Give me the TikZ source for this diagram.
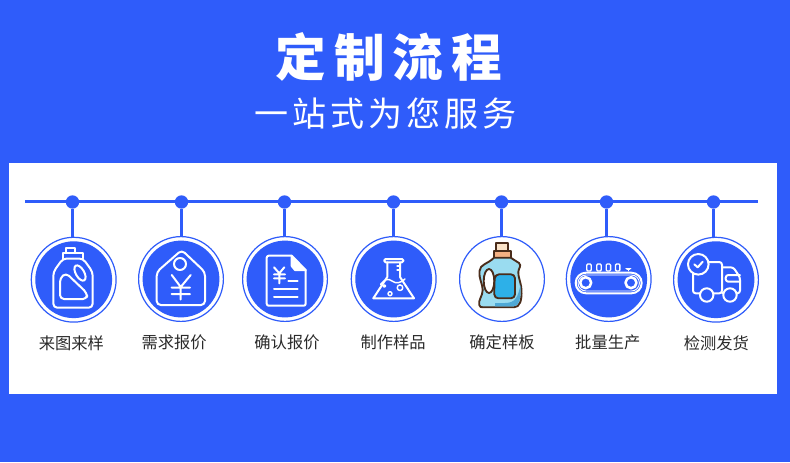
\documentclass[tikz,border=0pt]{standalone}
\usepackage{fontspec}
\usetikzlibrary{positioning}
\newfontfamily\cjk{Noto Sans CJK SC}
\newfontfamily\cjktitle[LetterSpace=15.5]{Noto Sans CJK SC}
\newfontfamily\cjksub[LetterSpace=12]{Noto Sans CJK SC}
\definecolor{flowblue}{HTML}{2F5CFA}
\definecolor{flowtext}{HTML}{2A2A2A}
\definecolor{bottleline}{HTML}{4A2C1A}
\definecolor{bottlebody}{HTML}{9ADCF0}
\definecolor{bottlelabel}{HTML}{2DB0E8}
\definecolor{bottleshade}{HTML}{4FA9D6}
\definecolor{bottlecollar}{HTML}{F5B183}
\definecolor{bottlecap}{HTML}{FBE3C8}

\begin{document}
\begin{tikzpicture}[x=.75pt,y=-.75pt,font=\cjk,
 dot/.style={circle,fill=flowblue,minimum size=10pt,inner sep=0pt},
 ring/.style={circle,draw=flowblue,line width=.9pt,minimum size=63.6pt,inner sep=0pt},
 disc/.style={circle,fill=flowblue,minimum size=57.6pt,inner sep=0pt},
 steplabel/.style={text=flowtext,font=\cjk\fontsize{12.2}{14}\selectfont,inner sep=0pt},
 link/.style={draw=flowblue,line width=1.7pt},
 ico/.style={draw=white,line width=1.5pt,line join=round,line cap=round},
 brown/.style={draw=bottleline,line width=1.4pt,line join=round}]
\fill[flowblue](0,0)rectangle(790,462);
\useasboundingbox(0,0)rectangle(790,462);
\fill[white](9,163)rectangle(777,394);
\node[text=white,font=\cjktitle\bfseries\fontsize{38}{44}\selectfont](title)at(389,57){定制流程};
\node[text=white,font=\cjksub\fontsize{25.5}{30}\selectfont,below=5pt of title,xshift=-2.5pt](subtitle){一站式为您服务};
\coordinate(lineL)at(25,201.5);
\coordinate(lineR)at(758,201.5);
\draw[flowblue,line width=2.6pt](lineL)--(lineR);
\node[dot](dot1)at(72.5,202){};
\node[dot](dot2)at(181.5,202){};
\node[dot](dot3)at(284.5,202){};
\node[dot](dot4)at(393.5,202){};
\node[dot](dot5)at(501.5,202){};
\node[dot](dot6)at(606.5,202){};
\node[dot](dot7)at(713.5,202){};
\node[ring](ring1)at(73.7,279.7){};
\node[ring](ring2)at(181,279){};
\node[ring](ring3)at(285,279){};
\node[ring](ring4)at(393.7,279){};
\node[ring](ring5)at(502,279){};
\node[ring](ring6)at(608.7,279){};
\node[ring](ring7)at(716,279.7){};
\node[disc]at(ring1){};
\node[disc]at(ring2){};
\node[disc]at(ring3){};
\node[disc]at(ring4){};
\node[disc]at(ring6){};
\node[disc]at(ring7){};
\draw[link](dot1)--(dot1|-ring1.north);
\draw[link](dot2)--(dot2|-ring2.north);
\draw[link](dot3)--(dot3|-ring3.north);
\draw[link](dot4)--(dot4|-ring4.north);
\draw[link](dot5)--(dot5|-ring5.north);
\draw[link](dot6)--(dot6|-ring6.north);
\draw[link](dot7)--(dot7|-ring7.north);
\node[steplabel,below=9.7pt of ring1,xshift=-1.7pt](text1){来图来样};
\node[steplabel,below=9.7pt of ring2,xshift=-5.2pt](text2){需求报价};
\node[steplabel,below=9.7pt of ring3,xshift=1.5pt](text3){确认报价};
\node[steplabel,below=9.7pt of ring4,xshift=-.5pt](text4){制作样品};
\node[steplabel,below=9.7pt of ring5](text5){确定样板};
\node[steplabel,below=9.7pt of ring6,xshift=-.7pt](text6){批量生产};
\node[steplabel,below=9.7pt of ring7,xshift=.3pt](text7){检测发货};
\draw[ico,rounded corners=3pt](53.3,272)--(63,258.5)--(83,258.5)--(92.7,272)--(92.7,307.7)--(53.3,307.7)--cycle;
\draw[ico](63,258.5)--(63,253)--(83,253)--(83,258.5);
\draw[ico](65.5,253)--(65.5,248)--(75,248)--(75,253);
\draw[ico,rounded corners=3pt](60,278)--(66,273)--(87,293)--(87,299)--(60,299)--cycle;
\draw[ico](80,273)ellipse[x radius=4.2,y radius=8.5,rotate=30];
\draw[ico,rounded corners=3pt](181.7,250)--(156.7,272)--(156.7,305)--(205,305)--(205,272)--cycle;
\draw[ico](180,264)circle[radius=6];
\draw[ico](171.7,275)--(180.7,287)--(190.7,275)(180.7,287)--(180.7,299.5)(171.7,287.5)--(190,287.5)(171.7,294)--(190,294);
\draw[ico,rounded corners=1.5pt](291.7,255.7)--(266.7,255.7)--(266.7,305.7)--(305.7,305.7)--(305.7,270);
\draw[ico,fill=white](291.7,255.7)--(305.7,270)--(295,270)--(291.7,266)--cycle;
\draw[ico](274,267.3)--(279.3,273.3)--(284.3,267.3)(279.3,273.3)--(279.3,283.3)(274,274.3)--(285,274.3)(274,278.3)--(285,278.3);
\draw[ico](288.3,280.7)--(297.7,280.7)(274,289)--(297.7,289)(274,297.3)--(297.7,297.3);
\draw[ico,rounded corners=1pt](384.3,259)rectangle(403.3,262.3);
\draw[ico](387.3,262.3)--(387.3,277)--(373.3,298.3)--(414,298.3)--(400,277)--(400,262.3);
\draw[ico,line width=1.1pt](380.7,284.3)..controls(385,279)and(388,278)..(392,281)..controls(396,284)and(401,283)..(405,279);
\draw[ico,line width=1pt](397,266)--(400,266)(397,270)--(400,270);
\draw[ico,line width=1.1pt](400,287.7)circle[radius=2.8](390,293.7)circle[radius=2](384.3,286)circle[radius=1.2];
\draw[brown,fill=bottlecap](496,243.3)rectangle(508.3,250.7);
\draw[brown,fill=bottlecollar](494,250.7)rectangle(510.7,257.7);
\draw[brown,fill=bottlebody](494,257.7)..controls(488,264)and(480,264)..(479.5,271)..controls(478.5,278)and(482.7,284)..(482.7,290)..controls(482.7,296)and(478,300)..(479.3,305)..controls(479.5,307)and(481,307.3)..(483,307.3)--(514,307.3)..controls(520,307.3)and(522,300)..(521.5,290)..controls(521,282)and(518,277)..(518.3,272)..controls(518.5,268)and(522,266)..(519,263)--(510.7,257.7)--cycle;
\fill[bottleshade](514,306.3)..controls(519,306)and(520.5,299)..(520.5,290)--(520.5,285)..controls(518,296)and(516,303)..(505,303)--(495,303)--(495,306.3)--cycle;
\draw[brown,fill=white](489,281)ellipse[x radius=5.3,y radius=12];
\draw[brown,fill=bottlelabel,rounded corners=3pt](495,274.3)--(515,274.3)--(515,298.3)--(494.3,298.3)--(494.3,285)--cycle;
\draw[ico,rounded corners=7.7pt](575.7,272.7)rectangle(641.7,293.3);
\draw[ico,line width=.7pt,rounded corners=6pt](578,275)rectangle(639.4,291);
\draw[ico,line width=1.9pt](585.7,282.7)circle[radius=5.5](631,282.7)circle[radius=5.5];
\draw[ico,rounded corners=.8pt,line width=1pt](586.8,264)rectangle(591.2,271);
\draw[ico,rounded corners=.8pt,line width=1pt](596.8,264)rectangle(601.2,271);
\draw[ico,rounded corners=.8pt,line width=1pt](606.2,264)rectangle(610.6,271);
\draw[ico,rounded corners=.8pt,line width=1pt](615.5,264)rectangle(619.9,271);
\draw[ico,line width=.7pt](625.8,268)--(630.8,268)(626.8,269.5)--(629.8,269.5)(628.3,269.5)--(628.3,271);
\draw[ico,rounded corners=2pt](693,270)--(693,293.3)--(700,293.3);
\draw[ico,rounded corners=2pt](706,262)--(722,262)--(722,293.3)--(713.5,293.3);
\draw[ico,rounded corners=2pt](722,267.3)--(733.3,267.3)--(740,277.3)--(740,293.3)--(736.7,293.3);
\draw[ico](723.3,293.3)--(722,293.3);
\draw[ico,rounded corners=2pt](740,275)--(725.7,275)--(725.7,281.7)--(740,281.7);
\draw[ico](706.7,295)circle[radius=6.7](730,295)circle[radius=6.7];
\draw[ico,fill=flowblue](698.3,264.3)circle[radius=10.3];
\draw[ico](694.3,264.3)--(697.7,267.3)--(702.7,261.7);
\end{tikzpicture}
\end{document}
